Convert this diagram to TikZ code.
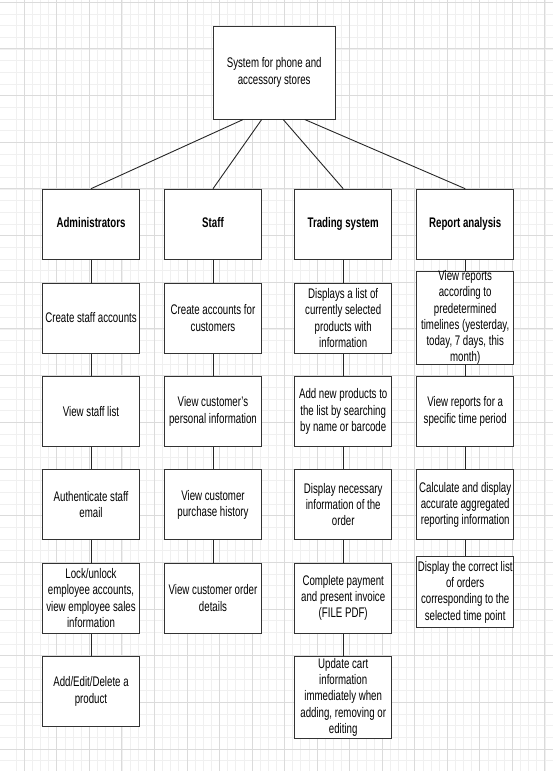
\documentclass[tikz,border=0pt]{standalone}
\usepackage{fontspec}
\setmainfont{Liberation Sans}[FakeStretch=0.697]
\usetikzlibrary{positioning}

\begin{document}
\begin{tikzpicture}[x=1pt,y=-1pt,
  box/.style={draw=black!80,line width=1pt,fill=white,rectangle,minimum width=97.4pt,minimum height=70pt,inner xsep=1pt,inner ysep=-2pt,align=center,font=\fontsize{13.9}{16.3}\selectfont},
  head/.style={box,text height=10pt,text depth=3pt,font=\fontsize{13.9}{16.3}\selectfont\bfseries},
  link/.style={draw=black!85,line width=0.9pt},
  gridminor/.style={draw=black!6,line width=0.8pt},
  gridmajor/.style={draw=black!14,line width=1pt}]
		  \useasboundingbox (0,0) rectangle (553,771);
		  % background grid
		  \begin{scope}
		  \clip (0,0) rectangle (553,771);
		  \foreach \i in {-1,...,67} \draw[gridminor] ({24.3+8.135*\i},0) -- ++(0,771);
		  \foreach \j in {0,...,66} \draw[gridminor] (0,{2.3+11.667*\j}) -- ++(553,0);
		  \foreach \i in {-1,...,16} \draw[gridmajor] ({24.3+32.54*\i},0) -- ++(0,771);
		  \foreach \j in {0,...,16} \draw[gridmajor] (0,{2.3+46.67*\j}) -- ++(553,0);
		  \end{scope}
		  \node[box,minimum width=121.7pt,minimum height=93pt] (sys) at (274.2,72.5) {System for phone and\\accessory stores};
		  \node[head] (admin) at (91,224.2)    {Administrators};
		  \node[head] (staff) at (213,224.2)   {Staff};
		  \node[head] (trade) at (343.2,224.2) {Trading system};
		  \node[head] (report) at (465.2,224.2) {Report analysis};
		  % administrators
		  \node[box] (a_1) at (91,318)   {Create staff accounts};
		  \node[box] (a_2) at (91,411.5) {View staff list};
		  \node[box] (a_3) at (91,504.7) {Authenticate staff\\email};
		  \node[box] (a_4) at (91,598)   {Lock/unlock\\employee accounts,\\view employee sales\\information};
		  \node[box] (a_5) at (91,691.3) {Add/Edit/Delete a\\product};
		  % staff
		  \node[box] (s_1) at (213,318)   {Create accounts for\\customers};
		  \node[box] (s_2) at (213,411.5) {View customer's\\personal information};
		  \node[box] (s_3) at (213,504.7) {View customer\\purchase history};
		  \node[box] (s_4) at (213,598)   {View customer order\\details};
		  % trading system
		  \node[box] (t_1) at (343.2,318)   {Displays a list of\\currently selected\\products with\\information};
		  \node[box] (t_2) at (343.2,411.5) {Add new products to\\the list by searching\\by name or barcode};
		  \node[box] (t_3) at (343.2,504.7) {Display necessary\\information of the\\order};
		  \node[box] (t_4) at (343.2,598)   {Complete payment\\and present invoice\\(FILE PDF)};
		  \node[box,minimum height=82.3pt] (t_5) at (343.2,697.2) {Update cart\\information\\immediately when\\adding, removing or\\editing};
		  % report analysis
		  \node[box,minimum height=93pt] (r_1) at (465.2,317.6) {View reports\\according to\\predetermined\\timelines (yesterday,\\today, 7 days, this\\month)};
		  \node[box] (r_2) at (465.2,411.5) {View reports for a\\specific time period};
		  \node[box] (r_3) at (465.2,504.7) {Calculate and display\\accurate aggregated\\reporting information};
		  \node[box,minimum height=71pt] (r_4) at (465.2,592.2) {Display the correct list\\of orders\\corresponding to the\\selected time point};
		  \path[link]  ([xshift=-31pt]sys.south)  edge (admin.north);
		  \path[link]  ([xshift=-12.5pt]sys.south)  edge (staff.north);
		  \path[link]  ([xshift=9pt]sys.south)  edge (trade.north);
		  \path[link]  ([xshift=30.5pt]sys.south)  edge (report.north);
		  \path[link]  (admin)  edge (a_1)  (a_1)  edge (a_2)  (a_2)  edge (a_3)  (a_3)  edge (a_4)  (a_4)  edge (a_5);
		  \path[link]  (staff)  edge (s_1)  (s_1)  edge (s_2)  (s_2)  edge (s_3)  (s_3)  edge (s_4);
		  \path[link]  (trade)  edge (t_1)  (t_1)  edge (t_2)  (t_2)  edge (t_3)  (t_3)  edge (t_4)  (t_4)  edge (t_5);
		  \path[link]  (report)  edge (r_1)  (r_1)  edge (r_2)  (r_2)  edge (r_3)  (r_3)  edge (r_4);
		\end{tikzpicture}
\end{document}
